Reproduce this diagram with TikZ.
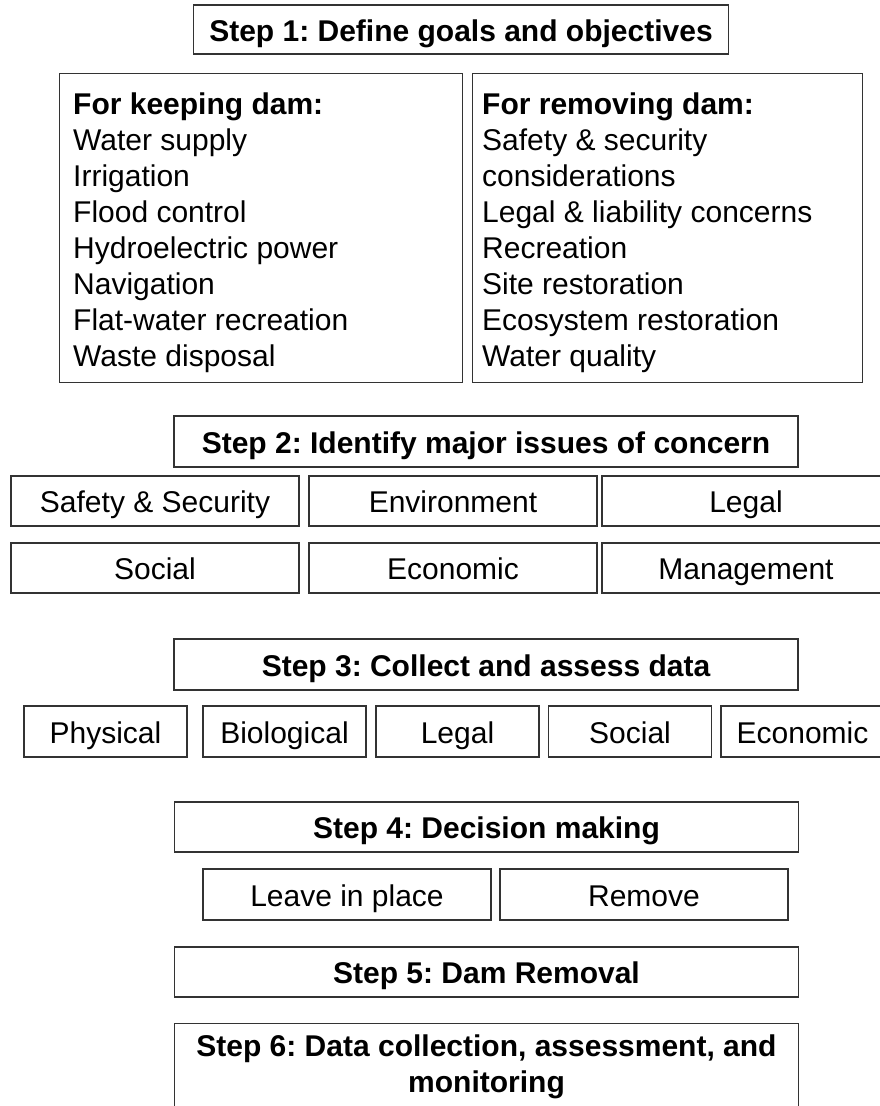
\documentclass[tikz,border=0pt]{standalone}
\usepackage{fontspec}
\setmainfont{Liberation Sans}
\frenchspacing
\begin{document}
\begin{tikzpicture}[x=1pt,y=-1pt,
  txt/.style={font=\fontsize{30}{36}\selectfont},
  btxt/.style={font=\fontsize{30}{36}\selectfont\bfseries},
  box/.style={draw=black!80, line width=1.1pt, inner sep=0pt, text height=23pt, text depth=0pt, txt},
  stepbox/.style={box, btxt},
  wide/.style={minimum width=624pt, minimum height=50pt},
  cell/.style={box, minimum width=288pt, minimum height=50pt},
  small/.style={box, minimum width=163pt, minimum height=51pt},
  plainbox/.style={draw=black!80, line width=1.1pt, inner sep=0pt},
  list/.style={anchor=north west, align=left, inner sep=0pt, txt}]
\useasboundingbox (0,0) rectangle (880,1106);
\fill[white] (0,0) rectangle (880,1106);
\clip (0,0) rectangle (880,1106);

% Step 1
\node[stepbox, minimum width=535pt, minimum height=49pt] (s1) at (461,29.5) {Step 1: Define goals and objectives};
\node[plainbox, minimum width=403pt, minimum height=309pt, anchor=north west] (keep) at (59,73) {};
\node[list] (keeptxt) at (73,93) {\textbf{For keeping dam:}\\Water supply\\Irrigation\\Flood control\\Hydroelectric power\\Navigation\\Flat-water recreation\\Waste disposal};
\node[plainbox, minimum width=390pt, minimum height=309pt, anchor=north west] (remove) at (472,73) {};
\node[list] (removetxt) at (482,93) {\textbf{For removing dam:}\\Safety \& security\\considerations\\Legal \& liability concerns\\Recreation\\Site restoration\\Ecosystem restoration\\Water quality};

% Step 2
\node[stepbox, wide, minimum height=51pt] (s2) at (486,441.5) {Step 2: Identify major issues of concern};
\node[cell] (safety) at (155,501) {Safety \& Security};
\node[cell] (env) at (453,501) {Environment};
\node[cell] (legal2) at (746,501) {Legal};
\node[cell] (social2) at (155,568) {Social};
\node[cell] (econ2) at (453,568) {Economic};
\node[cell] (mgmt) at (746,568) {Management};

% Step 3
\node[stepbox, wide, minimum height=51pt] (s3) at (486,664.5) {Step 3: Collect and assess data};
\node[small] (phys) at (105.5,731.5) {Physical};
\node[small] (bio) at (284.5,731.5) {Biological};
\node[small] (legal3) at (457.5,731.5) {Legal};
\node[small] (social3) at (630,731.5) {Social};
\node[small] (econ3) at (802.5,731.5) {Economic};

% Step 4
\node[stepbox, wide] (s4) at (486.5,827) {Step 4: Decision making};
\node[cell, minimum height=51pt] (leave) at (347,894.5) {Leave in place};
\node[cell, minimum height=51pt] (rem) at (644,894.5) {Remove};

% Step 5
\node[stepbox, wide] (s5) at (486.5,972) {Step 5: Dam Removal};

% Step 6
\node[plainbox, minimum width=624pt, minimum height=100pt, anchor=north] (s6) at (486.5,1023) {};
\node[anchor=north, align=center, inner sep=0pt, btxt] (s6txt) at (486.5,1035) {Step 6: Data collection, assessment, and\\monitoring};
\end{tikzpicture}
\end{document}
